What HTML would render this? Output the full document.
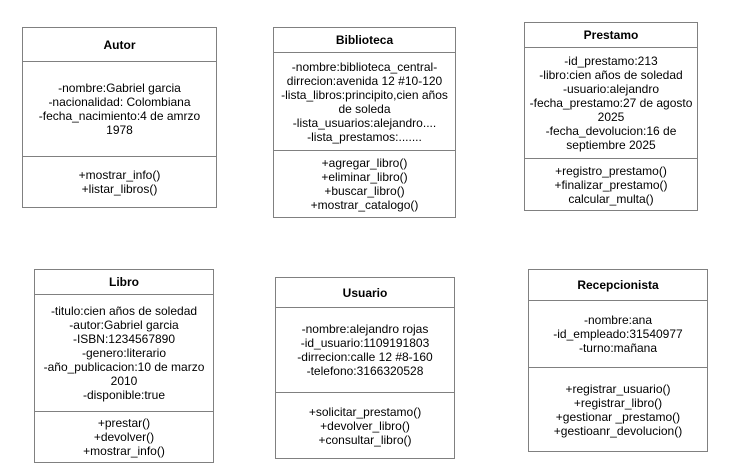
<!DOCTYPE html>
<html><head><meta charset="utf-8"><style>
body{margin:0;width:737px;height:473px;background:#fff;position:relative;overflow:hidden;font-family:"Liberation Sans",Arial,sans-serif;font-size:12px;color:#000}
.b{position:absolute;border:1px solid #808080;box-sizing:border-box;background:#fff}
.s{position:absolute;left:0;right:0;display:flex;align-items:center;justify-content:center;text-align:center;line-height:14px;padding:0 3px;box-sizing:border-box}
.h{font-weight:bold}
.l{border-top:1px solid #808080}
</style></head><body>

<div class="b" style="left:22px;top:27px;width:195px;height:181px">
<div class="s h" style="top:0;height:33px">Autor</div>
<div class="s l" style="top:33px;height:95px">-nombre:Gabriel garcia<br>-nacionalidad: Colombiana<br>-fecha_nacimiento:4 de amrzo<br>1978</div>
<div class="s l" style="top:128px;bottom:0">+mostrar_info()<br>+listar_libros()</div>
</div>

<div class="b" style="left:273px;top:27px;width:183px;height:191px">
<div class="s h" style="top:0;height:24px">Biblioteca</div>
<div class="s l" style="top:24px;height:98px">-nombre:biblioteca_central-<br>dirrecion:avenida 12 #10-120<br>-lista_libros:principito,cien años<br>de soleda<br>-lista_usuarios:alejandro....<br>-lista_prestamos:.......</div>
<div class="s l" style="top:122px;bottom:0">+agregar_libro()<br>+eliminar_libro()<br>+buscar_libro()<br>+mostrar_catalogo()</div>
</div>

<div class="b" style="left:524px;top:22px;width:174px;height:189px">
<div class="s h" style="top:0;height:24px">Prestamo</div>
<div class="s l" style="top:24px;height:111px">-id_prestamo:213<br>-libro:cien años de soledad<br>-usuario:alejandro<br>-fecha_prestamo:27 de agosto<br>2025<br>-fecha_devolucion:16 de<br>septiembre 2025</div>
<div class="s l" style="top:135px;bottom:0">+registro_prestamo()<br>+finalizar_prestamo()<br>calcular_multa()</div>
</div>

<div class="b" style="left:34px;top:269px;width:180px;height:194px">
<div class="s h" style="top:0;height:24px">Libro</div>
<div class="s l" style="top:24px;height:117px">-titulo:cien años de soledad<br>-autor:Gabriel garcia<br>-ISBN:1234567890<br>-genero:literario<br>-año_publicacion:10 de marzo<br>2010<br>-disponible:true</div>
<div class="s l" style="top:141px;bottom:0">+prestar()<br>+devolver()<br>+mostrar_info()</div>
</div>

<div class="b" style="left:275px;top:277px;width:180px;height:182px">
<div class="s h" style="top:0;height:29px">Usuario</div>
<div class="s l" style="top:29px;height:85px">-nombre:alejandro rojas<br>-id_usuario:1109191803<br>-dirrecion:calle 12 #8-160<br>-telefono:3166320528</div>
<div class="s l" style="top:114px;bottom:0">+solicitar_prestamo()<br>+devolver_libro()<br>+consultar_libro()</div>
</div>

<div class="b" style="left:528px;top:269px;width:180px;height:183px">
<div class="s h" style="top:0;height:30px">Recepcionista</div>
<div class="s l" style="top:30px;height:67px">-nombre:ana<br>-id_empleado:31540977<br>-turno:mañana</div>
<div class="s l" style="top:97px;bottom:0">+registrar_usuario()<br>+registrar_libro()<br>+gestionar _prestamo()<br>+gestioanr_devolucion()</div>
</div>

</body></html>
